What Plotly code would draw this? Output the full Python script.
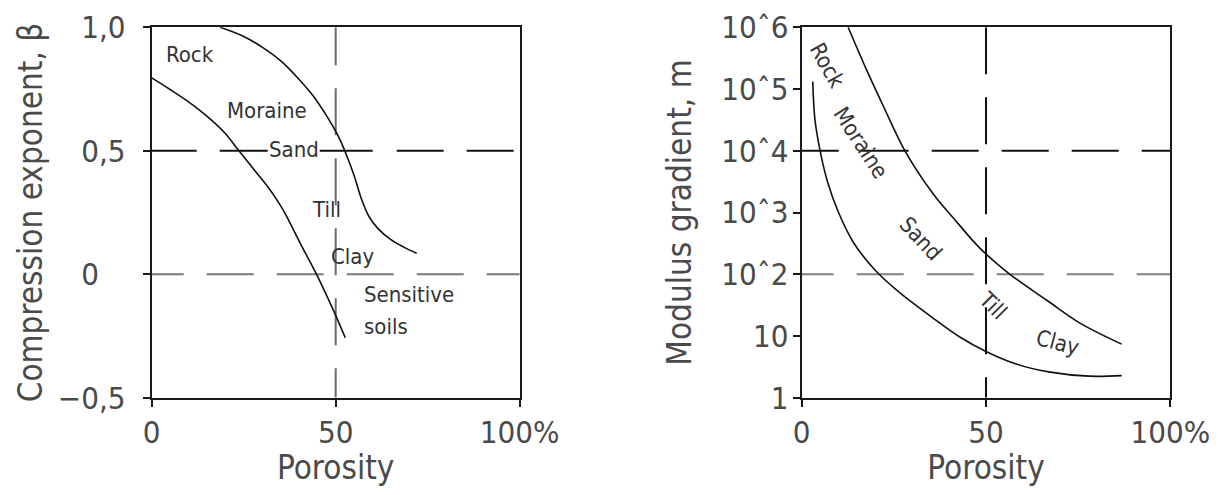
import numpy as np
import plotly.graph_objects as go

# ---------------- data ----------------
# Left panel: compression exponent beta vs porosity (%)
left_upper_x = [18.6, 25, 30, 35, 40, 44, 48, 51, 53, 55, 57, 59, 61.5, 65, 68.5, 72]
left_upper_y = [1.0, 0.963, 0.92, 0.865, 0.79, 0.72, 0.63, 0.55, 0.48, 0.40, 0.305, 0.235, 0.185, 0.14, 0.11, 0.085]
left_lower_x = [0, 5, 10, 15, 20, 23.5, 28, 32, 34.5, 36.2, 40.8, 44.8, 49.3, 52.6]
left_lower_y = [0.795, 0.748, 0.698, 0.64, 0.57, 0.504, 0.42, 0.345, 0.29, 0.248, 0.113, 0.0, -0.143, -0.257]

# Right panel: modulus gradient m (log) vs porosity (%)
right_upper_x = [12.6, 17.6, 22.1, 28.0, 35.7, 41.6, 48.4, 56.5, 66.5, 75.5, 86.8]
right_upper_y = [1.0e6, 2.04e5, 5.37e4, 1.0e4, 2000, 759, 263, 100, 38, 16.2, 7.4]
right_lower_x = [3.0, 3.6, 5.0, 7.0, 10.0, 14.0, 20.0, 27.0, 35.0, 43.0, 50.0, 58.0, 67.0, 78.0, 86.8]
right_lower_y = [1.32e5, 3.16e4, 1.0e4, 3160, 1000, 331, 115, 48, 20.9, 9.55, 5.62, 3.55, 2.63, 2.24, 2.29]

x_tickvals = [0, 50, 100]
x_ticktext = ["0", "50", "100%"]
left_tickvals = [-0.5, 0, 0.5, 1.0]
left_ticktext = ["\u22120,5", "0\u2008\u2007", "0,5", "1,0"]
right_tickvals = [1, 10, 100, 1e3, 1e4, 1e5, 1e6]
right_ticktext = ["1", "10", "10\u02c62", "10\u02c63", "10\u02c64", "10\u02c65", "10\u02c66"]

# reference lines
left_hlines = [0.5, 0.0]
left_vline = 50
right_hlines = [1e4, 1e2]
right_vline = 50

# labels
left_labels = ["Rock", "Moraine", "Sand", "Till", "Clay", "Sensitive", "soils"]
left_label_x = [10.4, 31.25, 38.7, 47.55, 54.6, 57.05, 57.05]
left_label_y = [0.888, 0.662, 0.504, 0.262, 0.072, -0.082, -0.211]
right_labels = ["Rock", "Moraine", "Sand", "Till", "Clay"]
right_label_x = [7.0, 16.0, 32.3, 51.8, 69.4]
right_label_y = [2.45e5, 1.36e4, 383, 30.9, 7.87]
right_label_angle = [61, 57, 47, 45, 15]

# ---------------- figure ----------------
OFF = 8                      # page body margin
W, H = 1218 - 2 * OFF, 495 - 2 * OFF
FONT = "DejaVu Sans Condensed, Liberation Sans Narrow, Roboto Condensed, DejaVu Sans, sans-serif"
TXT = "#333333"
TICKC = "#4a4a4a"
LINEC = "#1a1a1a"

def dash(first, gap1, n=8, d=47, g=23):
    parts = [f"{first}px", f"{gap1}px"]
    for _ in range(n):
        parts += [f"{d}px", f"{g}px"]
    return ",".join(parts)

fig = go.Figure()

# dashed reference lines (left)
fig.add_trace(go.Scatter(x=[0, 100], y=[left_hlines[0]] * 2, mode="lines", xaxis="x", yaxis="y",
                         line=dict(color="#111111", width=2,
                                   dash="45px,23px,48px,52px,53px,24px,47px,23px,47px,23px,47px,23px"),
                         hoverinfo="skip", showlegend=False))
fig.add_trace(go.Scatter(x=[0, 100], y=[left_hlines[1]] * 2, mode="lines", xaxis="x", yaxis="y",
                         line=dict(color="#7a7a7a", width=2, dash=dash(32, 23)),
                         hoverinfo="skip", showlegend=False))
fig.add_trace(go.Scatter(x=[left_vline] * 2, y=[1.0, -0.5], mode="lines", xaxis="x", yaxis="y",
                         line=dict(color="#6a6a6a", width=2, dash=dash(38, 23)),
                         hoverinfo="skip", showlegend=False))
# dashed reference lines (right)
fig.add_trace(go.Scatter(x=[0, 100], y=[right_hlines[0]] * 2, mode="lines", xaxis="x2", yaxis="y2",
                         line=dict(color="#111111", width=2, dash=dash(37, 23)),
                         hoverinfo="skip", showlegend=False))
fig.add_trace(go.Scatter(x=[0, 100], y=[right_hlines[1]] * 2, mode="lines", xaxis="x2", yaxis="y2",
                         line=dict(color="#808080", width=2, dash=dash(32, 23)),
                         hoverinfo="skip", showlegend=False))
fig.add_trace(go.Scatter(x=[right_vline] * 2, y=[1e6, 1], mode="lines", xaxis="x2", yaxis="y2",
                         line=dict(color="#111111", width=2, dash=dash(47, 23)),
                         hoverinfo="skip", showlegend=False))

# curves
curve = dict(color="#111111", width=1.6, shape="spline", smoothing=1.0)
fig.add_trace(go.Scatter(x=left_upper_x, y=left_upper_y, mode="lines", xaxis="x", yaxis="y",
                         line=curve, showlegend=False))
fig.add_trace(go.Scatter(x=left_lower_x, y=left_lower_y, mode="lines", xaxis="x", yaxis="y",
                         line=curve, showlegend=False))
fig.add_trace(go.Scatter(x=right_upper_x, y=right_upper_y, mode="lines", xaxis="x2", yaxis="y2",
                         line=curve, showlegend=False))
fig.add_trace(go.Scatter(x=right_lower_x, y=right_lower_y, mode="lines", xaxis="x2", yaxis="y2",
                         line=curve, showlegend=False))

# labels
ann = []
for t, x, y in zip(left_labels, left_label_x, left_label_y):
    left_align = t in ("Sensitive", "soils")
    ann.append(dict(text=t, x=x, y=y, xref="x", yref="y", showarrow=False,
                    xanchor="left" if left_align else "center", yanchor="middle",
                    font=dict(family=FONT, size=22, color=TXT)))
for t, x, y, a in zip(right_labels, right_label_x, right_label_y, right_label_angle):
    ann.append(dict(text=t, x=x, y=float(np.log10(y)), xref="x2", yref="y2", showarrow=False,
                    textangle=a, xanchor="center", yanchor="middle",
                    font=dict(family=FONT, size=22, color=TXT)))

# plot-area edges in page pixels
px0, px1 = 151.7 - OFF, 519.7 - OFF
qx0, qx1 = 801.7 - OFF, 1170.3 - OFF
ytop, ybot = 27.3 - OFF, 397.8 - OFF

axis_common = dict(showline=True, mirror=True, linecolor=LINEC, linewidth=2,
                   ticks="outside", ticklen=7, tickwidth=2, tickcolor=LINEC,
                   showgrid=False, zeroline=False, automargin=False)
xtick_font = dict(family=FONT, size=31, color=TICKC)
ytick_font = dict(family=FONT, size=31, color=TICKC)
title_font = dict(family=FONT, size=33, color=TICKC)

fig.update_layout(
    width=W, height=H,
    margin=dict(l=0, r=0, t=0, b=0),
    paper_bgcolor="white", plot_bgcolor="white",
    showlegend=False,
    annotations=ann,
    xaxis=dict(domain=[px0 / W, px1 / W], range=[0, 100], anchor="y",
               tickvals=x_tickvals, ticktext=x_ticktext, ticklabelstandoff=-1, tickfont=xtick_font,
               ticklabeloverflow="allow",
               title=dict(text="Porosity", font=title_font, standoff=11), **axis_common),
    yaxis=dict(domain=[1 - ybot / H, 1 - ytop / H], range=[-0.5, 1.0], anchor="x",
               tickvals=left_tickvals, ticktext=left_ticktext, ticklabelstandoff=11, tickfont=ytick_font,
               title=dict(text="Compression exponent, \u03b2", font=title_font, standoff=5), **axis_common),
    xaxis2=dict(domain=[qx0 / W, qx1 / W], range=[0, 100], anchor="y2",
                tickvals=x_tickvals, ticktext=x_ticktext, ticklabelstandoff=-1, tickfont=xtick_font,
                ticklabeloverflow="allow",
                title=dict(text="Porosity", font=title_font, standoff=11), **axis_common),
    yaxis2=dict(domain=[1 - ybot / H, 1 - ytop / H], type="log", range=[0, 6], anchor="x2",
                tickvals=right_tickvals, ticktext=right_ticktext, ticklabelstandoff=-2, tickfont=ytick_font,
                title=dict(text="Modulus gradient, m", font=title_font, standoff=20), **axis_common),
)

fig.write_html("out.html")
